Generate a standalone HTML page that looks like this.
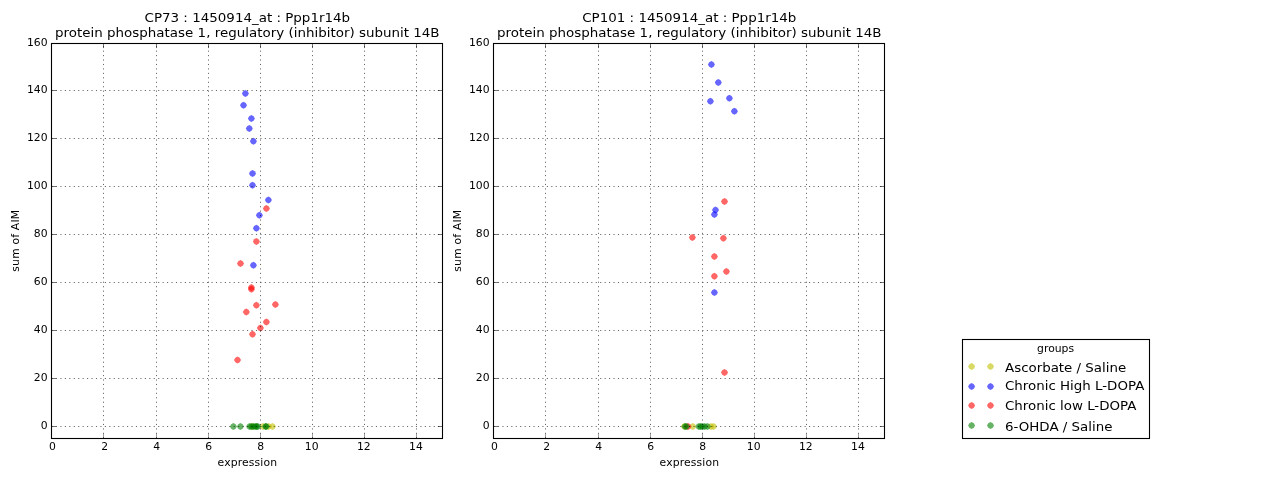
<!DOCTYPE html>
<html lang="en">
<head>
<meta charset="utf-8">
<title>CP73 / CP101 : 1450914_at : Ppp1r14b</title>
<style>
html,body{margin:0;padding:0;background:#fff;}
body{width:1280px;height:480px;overflow:hidden;}
svg{display:block;font-family:"DejaVu Sans", "Liberation Sans", sans-serif;}
</style>
</head>
<body>
<svg width="1280" height="480" viewBox="0 0 1280 480">
<rect width="1280" height="480" fill="#fff"/>
<g id="ax1">
<g fill="#bfbf00" fill-opacity="0.6">
<path d="M249.00 426.40L250.25 424.15L252.50 422.90L254.75 424.15L256.00 426.40L254.75 428.65L252.50 429.90L250.25 428.65Z"/>
<path d="M259.50 426.40L260.75 424.15L263.00 422.90L265.25 424.15L266.50 426.40L265.25 428.65L263.00 429.90L260.75 428.65Z"/>
<path d="M265.00 426.40L266.25 424.15L268.50 422.90L270.75 424.15L272.00 426.40L270.75 428.65L268.50 429.90L266.25 428.65Z"/>
<path d="M269.00 426.40L270.25 424.15L272.50 422.90L274.75 424.15L276.00 426.40L274.75 428.65L272.50 429.90L270.25 428.65Z"/>
</g>
<g fill="#0000ff" fill-opacity="0.6">
<path d="M241.90 93.50L243.15 91.25L245.40 90.00L247.65 91.25L248.90 93.50L247.65 95.75L245.40 97.00L243.15 95.75Z"/>
<path d="M240.00 105.30L241.25 103.05L243.50 101.80L245.75 103.05L247.00 105.30L245.75 107.55L243.50 108.80L241.25 107.55Z"/>
<path d="M247.90 118.40L249.15 116.15L251.40 114.90L253.65 116.15L254.90 118.40L253.65 120.65L251.40 121.90L249.15 120.65Z"/>
<path d="M245.80 128.40L247.05 126.15L249.30 124.90L251.55 126.15L252.80 128.40L251.55 130.65L249.30 131.90L247.05 130.65Z"/>
<path d="M249.90 141.30L251.15 139.05L253.40 137.80L255.65 139.05L256.90 141.30L255.65 143.55L253.40 144.80L251.15 143.55Z"/>
<path d="M249.00 173.50L250.25 171.25L252.50 170.00L254.75 171.25L256.00 173.50L254.75 175.75L252.50 177.00L250.25 175.75Z"/>
<path d="M249.00 185.30L250.25 183.05L252.50 181.80L254.75 183.05L256.00 185.30L254.75 187.55L252.50 188.80L250.25 187.55Z"/>
<path d="M264.90 200.10L266.15 197.85L268.40 196.60L270.65 197.85L271.90 200.10L270.65 202.35L268.40 203.60L266.15 202.35Z"/>
<path d="M255.90 215.30L257.15 213.05L259.40 211.80L261.65 213.05L262.90 215.30L261.65 217.55L259.40 218.80L257.15 217.55Z"/>
<path d="M252.90 228.25L254.15 226.00L256.40 224.75L258.65 226.00L259.90 228.25L258.65 230.50L256.40 231.75L254.15 230.50Z"/>
<path d="M249.90 265.25L251.15 263.00L253.40 261.75L255.65 263.00L256.90 265.25L255.65 267.50L253.40 268.75L251.15 267.50Z"/>
</g>
<g fill="#ff0000" fill-opacity="0.6">
<path d="M262.90 208.40L264.15 206.15L266.40 204.90L268.65 206.15L269.90 208.40L268.65 210.65L266.40 211.90L264.15 210.65Z"/>
<path d="M252.90 241.40L254.15 239.15L256.40 237.90L258.65 239.15L259.90 241.40L258.65 243.65L256.40 244.90L254.15 243.65Z"/>
<path d="M237.00 263.40L238.25 261.15L240.50 259.90L242.75 261.15L244.00 263.40L242.75 265.65L240.50 266.90L238.25 265.65Z"/>
<path d="M247.90 287.50L249.15 285.25L251.40 284.00L253.65 285.25L254.90 287.50L253.65 289.75L251.40 291.00L249.15 289.75Z"/>
<path d="M247.90 289.20L249.15 286.95L251.40 285.70L253.65 286.95L254.90 289.20L253.65 291.45L251.40 292.70L249.15 291.45Z"/>
<path d="M252.90 305.20L254.15 302.95L256.40 301.70L258.65 302.95L259.90 305.20L258.65 307.45L256.40 308.70L254.15 307.45Z"/>
<path d="M271.90 304.40L273.15 302.15L275.40 300.90L277.65 302.15L278.90 304.40L277.65 306.65L275.40 307.90L273.15 306.65Z"/>
<path d="M242.80 312.10L244.05 309.85L246.30 308.60L248.55 309.85L249.80 312.10L248.55 314.35L246.30 315.60L244.05 314.35Z"/>
<path d="M262.90 322.10L264.15 319.85L266.40 318.60L268.65 319.85L269.90 322.10L268.65 324.35L266.40 325.60L264.15 324.35Z"/>
<path d="M256.90 328.10L258.15 325.85L260.40 324.60L262.65 325.85L263.90 328.10L262.65 330.35L260.40 331.60L258.15 330.35Z"/>
<path d="M249.00 334.20L250.25 331.95L252.50 330.70L254.75 331.95L256.00 334.20L254.75 336.45L252.50 337.70L250.25 336.45Z"/>
<path d="M234.00 360.10L235.25 357.85L237.50 356.60L239.75 357.85L241.00 360.10L239.75 362.35L237.50 363.60L235.25 362.35Z"/>
</g>
<g fill="#008000" fill-opacity="0.6">
<path d="M229.90 426.40L231.15 424.15L233.40 422.90L235.65 424.15L236.90 426.40L235.65 428.65L233.40 429.90L231.15 428.65Z"/>
<path d="M236.90 426.40L238.15 424.15L240.40 422.90L242.65 424.15L243.90 426.40L242.65 428.65L240.40 429.90L238.15 428.65Z"/>
<path d="M246.10 426.40L247.35 424.15L249.60 422.90L251.85 424.15L253.10 426.40L251.85 428.65L249.60 429.90L247.35 428.65Z"/>
<path d="M247.90 426.40L249.15 424.15L251.40 422.90L253.65 424.15L254.90 426.40L253.65 428.65L251.40 429.90L249.15 428.65Z"/>
<path d="M249.90 426.40L251.15 424.15L253.40 422.90L255.65 424.15L256.90 426.40L255.65 428.65L253.40 429.90L251.15 428.65Z"/>
<path d="M251.90 426.40L253.15 424.15L255.40 422.90L257.65 424.15L258.90 426.40L257.65 428.65L255.40 429.90L253.15 428.65Z"/>
<path d="M253.10 426.40L254.35 424.15L256.60 422.90L258.85 424.15L260.10 426.40L258.85 428.65L256.60 429.90L254.35 428.65Z"/>
<path d="M254.30 426.40L255.55 424.15L257.80 422.90L260.05 424.15L261.30 426.40L260.05 428.65L257.80 429.90L255.55 428.65Z"/>
<path d="M262.10 426.40L263.35 424.15L265.60 422.90L267.85 424.15L269.10 426.40L267.85 428.65L265.60 429.90L263.35 428.65Z"/>
<path d="M262.70 426.40L263.95 424.15L266.20 422.90L268.45 424.15L269.70 426.40L268.45 428.65L266.20 429.90L263.95 428.65Z"/>
</g>
<g stroke="#000" stroke-width="0.75" stroke-dasharray="1.111 3.333" fill="none" opacity="0.8">
<path d="M103.5 438.35V43.5"/>
<path d="M156.5 438.35V43.5"/>
<path d="M208.5 438.35V43.5"/>
<path d="M260.5 438.35V43.5"/>
<path d="M312.5 438.35V43.5"/>
<path d="M364.5 438.35V43.5"/>
<path d="M416.5 438.35V43.5"/>
<path d="M51.5 426.5H442.5"/>
<path d="M51.5 378.5H442.5"/>
<path d="M51.5 330.5H442.5"/>
<path d="M51.5 282.5H442.5"/>
<path d="M51.5 234.5H442.5"/>
<path d="M51.5 186.5H442.5"/>
<path d="M51.5 138.5H442.5"/>
<path d="M51.5 90.5H442.5"/>
</g>
<g stroke="#000" stroke-width="0.55" fill="none">
<path d="M103.5 438.5v-4.6" stroke-opacity="0.7"/><path d="M103.5 43.5v4.6"/>
<path d="M156.5 438.5v-4.6" stroke-opacity="0.7"/><path d="M156.5 43.5v4.6"/>
<path d="M208.5 438.5v-4.6" stroke-opacity="0.7"/><path d="M208.5 43.5v4.6"/>
<path d="M260.5 438.5v-4.6" stroke-opacity="0.7"/><path d="M260.5 43.5v4.6"/>
<path d="M312.5 438.5v-4.6" stroke-opacity="0.7"/><path d="M312.5 43.5v4.6"/>
<path d="M364.5 438.5v-4.6" stroke-opacity="0.7"/><path d="M364.5 43.5v4.6"/>
<path d="M416.5 438.5v-4.6" stroke-opacity="0.7"/><path d="M416.5 43.5v4.6"/>
<path d="M51.5 426.5h4.6M442.5 426.5h-4.6"/>
<path d="M51.5 378.5h4.6M442.5 378.5h-4.6"/>
<path d="M51.5 330.5h4.6M442.5 330.5h-4.6"/>
<path d="M51.5 282.5h4.6M442.5 282.5h-4.6"/>
<path d="M51.5 234.5h4.6M442.5 234.5h-4.6"/>
<path d="M51.5 186.5h4.6M442.5 186.5h-4.6"/>
<path d="M51.5 138.5h4.6M442.5 138.5h-4.6"/>
<path d="M51.5 90.5h4.6M442.5 90.5h-4.6"/>
</g>
<rect x="51.5" y="43.5" width="391" height="395" fill="none" stroke="#000" stroke-width="1.1"/>
<g font-size="10.8" fill="#000">
<text x="52.50" y="449.8" text-anchor="middle">0</text>
<text x="104.80" y="449.8" text-anchor="middle">2</text>
<text x="156.70" y="449.8" text-anchor="middle">4</text>
<text x="208.70" y="449.8" text-anchor="middle">6</text>
<text x="260.80" y="449.8" text-anchor="middle">8</text>
<text x="311.70" y="449.8" text-anchor="middle">10</text>
<text x="363.80" y="449.8" text-anchor="middle">12</text>
<text x="415.95" y="449.8" text-anchor="middle">14</text>
<text x="47.6" y="429" text-anchor="end">0</text>
<text x="47.6" y="381" text-anchor="end">20</text>
<text x="47.6" y="333" text-anchor="end">40</text>
<text x="47.6" y="285" text-anchor="end">60</text>
<text x="47.6" y="237" text-anchor="end">80</text>
<text x="47.6" y="189" text-anchor="end">100</text>
<text x="47.6" y="141" text-anchor="end">120</text>
<text x="47.6" y="93" text-anchor="end">140</text>
<text x="47.6" y="46" text-anchor="end">160</text>
<text x="247.3" y="465.8" text-anchor="middle" textLength="59.5">expression</text>
<text transform="translate(19.2 240.8) rotate(-90)" text-anchor="middle" textLength="61.8">sum of AIM</text>
</g>
<g font-size="13.44" fill="#000" text-anchor="middle">
<text transform="translate(247.3 21.8) scale(1 0.92)">CP73 : 1450914_at : Ppp1r14b</text>
<text transform="translate(247.3 36.9) scale(1 0.92)">protein phosphatase 1, regulatory (inhibitor) subunit 14B</text>
</g>
</g>
<g id="ax2">
<g fill="#bfbf00" fill-opacity="0.6">
<path d="M680.90 426.40L682.15 424.15L684.40 422.90L686.65 424.15L687.90 426.40L686.65 428.65L684.40 429.90L682.15 428.65Z"/>
<path d="M689.30 426.40L690.55 424.15L692.80 422.90L695.05 424.15L696.30 426.40L695.05 428.65L692.80 429.90L690.55 428.65Z"/>
<path d="M707.30 426.40L708.55 424.15L710.80 422.90L713.05 424.15L714.30 426.40L713.05 428.65L710.80 429.90L708.55 428.65Z"/>
<path d="M710.00 426.40L711.25 424.15L713.50 422.90L715.75 424.15L717.00 426.40L715.75 428.65L713.50 429.90L711.25 428.65Z"/>
</g>
<g fill="#0000ff" fill-opacity="0.6">
<path d="M707.90 64.40L709.15 62.15L711.40 60.90L713.65 62.15L714.90 64.40L713.65 66.65L711.40 67.90L709.15 66.65Z"/>
<path d="M714.80 82.40L716.05 80.15L718.30 78.90L720.55 80.15L721.80 82.40L720.55 84.65L718.30 85.90L716.05 84.65Z"/>
<path d="M706.90 101.30L708.15 99.05L710.40 97.80L712.65 99.05L713.90 101.30L712.65 103.55L710.40 104.80L708.15 103.55Z"/>
<path d="M725.90 98.30L727.15 96.05L729.40 94.80L731.65 96.05L732.90 98.30L731.65 100.55L729.40 101.80L727.15 100.55Z"/>
<path d="M730.90 111.25L732.15 109.00L734.40 107.75L736.65 109.00L737.90 111.25L736.65 113.50L734.40 114.75L732.15 113.50Z"/>
<path d="M712.00 210.00L713.25 207.75L715.50 206.50L717.75 207.75L719.00 210.00L717.75 212.25L715.50 213.50L713.25 212.25Z"/>
<path d="M710.90 214.50L712.15 212.25L714.40 211.00L716.65 212.25L717.90 214.50L716.65 216.75L714.40 218.00L712.15 216.75Z"/>
<path d="M710.90 292.40L712.15 290.15L714.40 288.90L716.65 290.15L717.90 292.40L716.65 294.65L714.40 295.90L712.15 294.65Z"/>
</g>
<g fill="#ff0000" fill-opacity="0.6">
<path d="M721.00 201.40L722.25 199.15L724.50 197.90L726.75 199.15L728.00 201.40L726.75 203.65L724.50 204.90L722.25 203.65Z"/>
<path d="M688.90 237.40L690.15 235.15L692.40 233.90L694.65 235.15L695.90 237.40L694.65 239.65L692.40 240.90L690.15 239.65Z"/>
<path d="M719.90 238.30L721.15 236.05L723.40 234.80L725.65 236.05L726.90 238.30L725.65 240.55L723.40 241.80L721.15 240.55Z"/>
<path d="M710.90 256.40L712.15 254.15L714.40 252.90L716.65 254.15L717.90 256.40L716.65 258.65L714.40 259.90L712.15 258.65Z"/>
<path d="M722.90 271.40L724.15 269.15L726.40 267.90L728.65 269.15L729.90 271.40L728.65 273.65L726.40 274.90L724.15 273.65Z"/>
<path d="M710.90 276.25L712.15 274.00L714.40 272.75L716.65 274.00L717.90 276.25L716.65 278.50L714.40 279.75L712.15 278.50Z"/>
<path d="M721.00 372.40L722.25 370.15L724.50 368.90L726.75 370.15L728.00 372.40L726.75 374.65L724.50 375.90L722.25 374.65Z"/>
<path d="M684.50 426.40L685.75 424.15L688.00 422.90L690.25 424.15L691.50 426.40L690.25 428.65L688.00 429.90L685.75 428.65Z"/>
</g>
<g fill="#008000" fill-opacity="0.6">
<path d="M681.50 426.40L682.75 424.15L685.00 422.90L687.25 424.15L688.50 426.40L687.25 428.65L685.00 429.90L682.75 428.65Z"/>
<path d="M682.90 426.40L684.15 424.15L686.40 422.90L688.65 424.15L689.90 426.40L688.65 428.65L686.40 429.90L684.15 428.65Z"/>
<path d="M695.30 426.40L696.55 424.15L698.80 422.90L701.05 424.15L702.30 426.40L701.05 428.65L698.80 429.90L696.55 428.65Z"/>
<path d="M697.10 426.40L698.35 424.15L700.60 422.90L702.85 424.15L704.10 426.40L702.85 428.65L700.60 429.90L698.35 428.65Z"/>
<path d="M698.90 426.40L700.15 424.15L702.40 422.90L704.65 424.15L705.90 426.40L704.65 428.65L702.40 429.90L700.15 428.65Z"/>
<path d="M701.10 426.40L702.35 424.15L704.60 422.90L706.85 424.15L708.10 426.40L706.85 428.65L704.60 429.90L702.35 428.65Z"/>
<path d="M703.90 426.40L705.15 424.15L707.40 422.90L709.65 424.15L710.90 426.40L709.65 428.65L707.40 429.90L705.15 428.65Z"/>
</g>
<g stroke="#000" stroke-width="0.75" stroke-dasharray="1.111 3.333" fill="none" opacity="0.8">
<path d="M545.5 438.35V43.5"/>
<path d="M598.5 438.35V43.5"/>
<path d="M650.5 438.35V43.5"/>
<path d="M702.5 438.35V43.5"/>
<path d="M754.5 438.35V43.5"/>
<path d="M806.5 438.35V43.5"/>
<path d="M858.5 438.35V43.5"/>
<path d="M493.5 426.5H884.5"/>
<path d="M493.5 378.5H884.5"/>
<path d="M493.5 330.5H884.5"/>
<path d="M493.5 282.5H884.5"/>
<path d="M493.5 234.5H884.5"/>
<path d="M493.5 186.5H884.5"/>
<path d="M493.5 138.5H884.5"/>
<path d="M493.5 90.5H884.5"/>
</g>
<g stroke="#000" stroke-width="0.55" fill="none">
<path d="M545.5 438.5v-4.6" stroke-opacity="0.7"/><path d="M545.5 43.5v4.6"/>
<path d="M598.5 438.5v-4.6" stroke-opacity="0.7"/><path d="M598.5 43.5v4.6"/>
<path d="M650.5 438.5v-4.6" stroke-opacity="0.7"/><path d="M650.5 43.5v4.6"/>
<path d="M702.5 438.5v-4.6" stroke-opacity="0.7"/><path d="M702.5 43.5v4.6"/>
<path d="M754.5 438.5v-4.6" stroke-opacity="0.7"/><path d="M754.5 43.5v4.6"/>
<path d="M806.5 438.5v-4.6" stroke-opacity="0.7"/><path d="M806.5 43.5v4.6"/>
<path d="M858.5 438.5v-4.6" stroke-opacity="0.7"/><path d="M858.5 43.5v4.6"/>
<path d="M493.5 426.5h4.6M884.5 426.5h-4.6"/>
<path d="M493.5 378.5h4.6M884.5 378.5h-4.6"/>
<path d="M493.5 330.5h4.6M884.5 330.5h-4.6"/>
<path d="M493.5 282.5h4.6M884.5 282.5h-4.6"/>
<path d="M493.5 234.5h4.6M884.5 234.5h-4.6"/>
<path d="M493.5 186.5h4.6M884.5 186.5h-4.6"/>
<path d="M493.5 138.5h4.6M884.5 138.5h-4.6"/>
<path d="M493.5 90.5h4.6M884.5 90.5h-4.6"/>
</g>
<rect x="493.5" y="43.5" width="391" height="395" fill="none" stroke="#000" stroke-width="1.1"/>
<g font-size="10.8" fill="#000">
<text x="494.50" y="449.8" text-anchor="middle">0</text>
<text x="546.80" y="449.8" text-anchor="middle">2</text>
<text x="598.70" y="449.8" text-anchor="middle">4</text>
<text x="650.70" y="449.8" text-anchor="middle">6</text>
<text x="702.80" y="449.8" text-anchor="middle">8</text>
<text x="753.70" y="449.8" text-anchor="middle">10</text>
<text x="805.80" y="449.8" text-anchor="middle">12</text>
<text x="857.95" y="449.8" text-anchor="middle">14</text>
<text x="489.6" y="429" text-anchor="end">0</text>
<text x="489.6" y="381" text-anchor="end">20</text>
<text x="489.6" y="333" text-anchor="end">40</text>
<text x="489.6" y="285" text-anchor="end">60</text>
<text x="489.6" y="237" text-anchor="end">80</text>
<text x="489.6" y="189" text-anchor="end">100</text>
<text x="489.6" y="141" text-anchor="end">120</text>
<text x="489.6" y="93" text-anchor="end">140</text>
<text x="489.6" y="46" text-anchor="end">160</text>
<text x="689.3" y="465.8" text-anchor="middle" textLength="59.5">expression</text>
<text transform="translate(461.2 240.8) rotate(-90)" text-anchor="middle" textLength="61.8">sum of AIM</text>
</g>
<g font-size="13.44" fill="#000" text-anchor="middle">
<text transform="translate(689.3 21.8) scale(1 0.92)">CP101 : 1450914_at : Ppp1r14b</text>
<text transform="translate(689.3 36.9) scale(1 0.92)">protein phosphatase 1, regulatory (inhibitor) subunit 14B</text>
</g>
</g>
<g id="legend">
<rect x="962.5" y="339.5" width="187" height="99" fill="#fff" stroke="#000" stroke-width="1.1"/>
<text x="1055.6" y="351.7" font-size="10.8" text-anchor="middle">groups</text>
<g fill="#bfbf00" fill-opacity="0.6"><path d="M968.10 366.40L969.35 364.15L971.60 362.90L973.85 364.15L975.10 366.40L973.85 368.65L971.60 369.90L969.35 368.65Z"/><path d="M987.00 366.40L988.25 364.15L990.50 362.90L992.75 364.15L994.00 366.40L992.75 368.65L990.50 369.90L988.25 368.65Z"/></g>
<text transform="translate(1005 371.8) scale(1 0.92)" font-size="13.4">Ascorbate / Saline</text>
<g fill="#0000ff" fill-opacity="0.6"><path d="M968.10 386.40L969.35 384.15L971.60 382.90L973.85 384.15L975.10 386.40L973.85 388.65L971.60 389.90L969.35 388.65Z"/><path d="M987.00 386.40L988.25 384.15L990.50 382.90L992.75 384.15L994.00 386.40L992.75 388.65L990.50 389.90L988.25 388.65Z"/></g>
<text transform="translate(1005 389.7) scale(1 0.92)" font-size="13.4">Chronic High L-DOPA</text>
<g fill="#ff0000" fill-opacity="0.6"><path d="M968.10 405.40L969.35 403.15L971.60 401.90L973.85 403.15L975.10 405.40L973.85 407.65L971.60 408.90L969.35 407.65Z"/><path d="M987.00 405.40L988.25 403.15L990.50 401.90L992.75 403.15L994.00 405.40L992.75 407.65L990.50 408.90L988.25 407.65Z"/></g>
<text transform="translate(1005 409.8) scale(1 0.92)" font-size="13.4">Chronic low L-DOPA</text>
<g fill="#008000" fill-opacity="0.6"><path d="M968.10 425.40L969.35 423.15L971.60 421.90L973.85 423.15L975.10 425.40L973.85 427.65L971.60 428.90L969.35 427.65Z"/><path d="M987.00 425.40L988.25 423.15L990.50 421.90L992.75 423.15L994.00 425.40L992.75 427.65L990.50 428.90L988.25 427.65Z"/></g>
<text transform="translate(1005 430.8) scale(1 0.92)" font-size="13.4">6-OHDA / Saline</text>
</g>
</svg>
</body>
</html>
